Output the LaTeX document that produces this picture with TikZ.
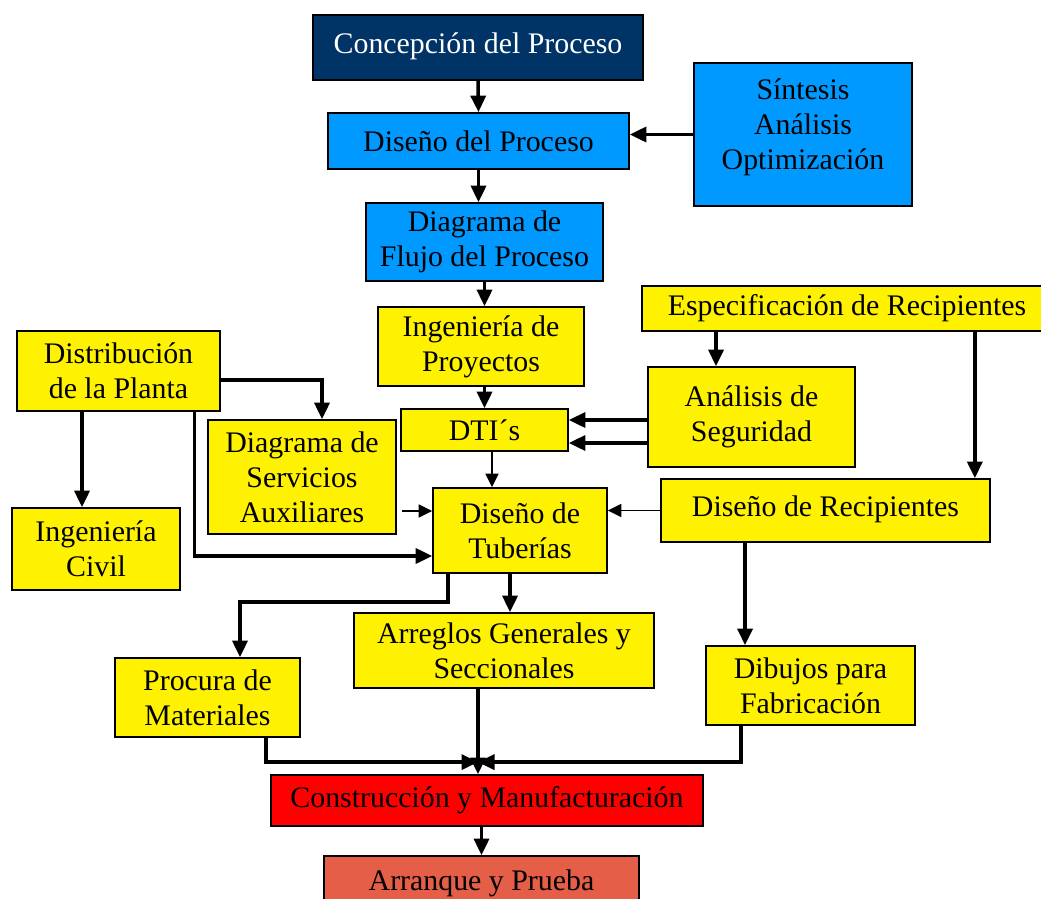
\documentclass[tikz,border=0pt]{standalone}
\usepackage{fontspec}
\setmainfont{Liberation Serif}
\usetikzlibrary{positioning, arrows.meta, calc}
\definecolor{navy}{RGB}{0,51,102}
\definecolor{skyblue}{RGB}{0,153,255}
\definecolor{brick}{RGB}{229,94,72}

\begin{document}
\begin{tikzpicture}[
    x=0.02cm, y=-0.02cm,
    every node/.style={font=\fontsize{17}{20}\selectfont},
    box/.style={draw, line width=1pt, fill=yellow, align=center, inner sep=2pt},
    arrow/.style={-{Triangle[length=0.33cm, width=0.3cm]}, line width=2pt},
    thinarrow/.style={-{Triangle[length=0.27cm, width=0.26cm]}, line width=0.9pt}
  ]
  \clip (0,0) rectangle (1041,899);

  % process design chain
  \node[box, fill=navy, text=white, minimum width=6.6cm, minimum height=1.3cm] (conc) at (478,47.5) {Concepción del Proceso\\[-15pt]\mbox{}};
  \node[box, fill=skyblue, minimum width=6.02cm, minimum height=1.12cm] (dis) at (478.5,141) {Diseño del Proceso};
  \node[box, fill=skyblue, minimum width=4.36cm, minimum height=2.86cm] (sin) at (803,134.5) {Síntesis\\Análisis\\Optimización\\[-8pt]\mbox{}};
  \node[box, fill=skyblue, minimum width=4.74cm, minimum height=1.56cm] (flu) at (484.5,242) {Diagrama de\\Flujo del Proceso};
  \node[box, minimum width=4.12cm, minimum height=1.58cm] (ing) at (481,346.5) {Ingeniería de\\Proyectos};
  \node[box, minimum width=8.2cm, minimum height=0.9cm]   (esp) at (847,308.5) {Especificación de Recipientes};
  \node[box, minimum width=4.06cm, minimum height=1.6cm]  (dpl) at (118.5,371) {Distribución\\de la Planta};
  \node[box, minimum width=4.14cm, minimum height=2.0cm]  (ana) at (751.5,417) {Análisis de\\Seguridad};
  \node[box, minimum width=3.34cm, minimum height=0.84cm] (dti) at (484.5,430) {DTI´s};
  \node[box, minimum width=3.76cm, minimum height=2.28cm] (srv) at (302,477) {Diagrama de\\Servicios\\Auxiliares};
  \node[box, minimum width=3.48cm, minimum height=1.7cm]  (tub) at (520,530.5) {Diseño de\\Tuberías};
  \node[box, minimum width=6.58cm, minimum height=1.26cm] (rec) at (825.5,510.5) {Diseño de Recipientes\\[-15pt]\mbox{}};
  \node[box, minimum width=3.36cm, minimum height=1.64cm] (civ) at (96,549) {Ingeniería\\Civil};

  % drawings and construction
  \node[box, minimum width=6.0cm, minimum height=1.5cm]   (arr) at (504,650.5) {Arreglos Generales y\\Seccionales};
  \node[box, minimum width=3.7cm, minimum height=1.58cm]  (pro) at (207.5,697.5) {Procura de\\Materiales};
  \node[box, minimum width=4.18cm, minimum height=1.58cm] (dib) at (810.5,685.5) {Dibujos para\\Fabricación};
  \node[box, fill=red, minimum width=8.64cm, minimum height=1.02cm] (con) at (487,800.5) {Construcción y Manufacturación};
  \node[box, fill=brick, minimum width=6.3cm, minimum height=1.1cm] (arq) at (481.5,883.5) {Arranque y Prueba};

  \coordinate (jn) at ($(con.north)+(-9,-12)$);

  \draw[arrow] (conc.south) -- (dis.north);
  \draw[arrow] (sin.west) -- (sin.west -| dis.east);
  \draw[arrow] (dis.south) -- (dis.south |- flu.north);
  \draw[arrow] (flu.south) -- (flu.south |- ing.north);
  \draw[arrow] (dti.north |- ing.south) -- (dti.north);
  \draw[arrow] ([xshift=-0.71cm]ana.north |- esp.south) -- ([xshift=-0.71cm]ana.north);
  \draw[arrow] ([xshift=-0.32cm]rec.north east |- esp.south) -- ([xshift=-0.32cm]rec.north east);
  \draw[arrow] ([yshift=0.2cm]dti.east -| ana.west) -- ([yshift=0.2cm]dti.east);
  \draw[arrow] ([yshift=-0.26cm]dti.east -| ana.west) -- ([yshift=-0.26cm]dti.east);
  \draw[thinarrow] ([xshift=0.15cm]dti.south) -- ([xshift=0.15cm]dti.south |- tub.north);
  \draw[arrow] ([yshift=-0.18cm]dpl.east) -| ([xshift=0.4cm]srv.north);
  \draw[arrow] ([xshift=-0.28cm]civ.north |- dpl.south) -- ([xshift=-0.28cm]civ.north);
  \draw[arrow] ([xshift=1.52cm]dpl.south) |- ([yshift=-0.51cm]tub.west);
  \draw[thinarrow] ([xshift=-0.6cm, yshift=0.39cm]tub.west) -- ([yshift=0.39cm]tub.west);
  \draw[thinarrow] (rec.west) -- (rec.west -| tub.east);
  \draw[arrow] ([xshift=-1.31cm]dib.north |- rec.south) -- ([xshift=-1.31cm]dib.north);
  \draw[arrow] ([xshift=-1.44cm]tub.south) -- ++(0,-0.56cm) -| ([xshift=0.65cm]pro.north);
  \draw[arrow] ([xshift=0.12cm]arr.north |- tub.south) -- ([xshift=0.12cm]arr.north);
  \draw[arrow] ([xshift=1.17cm]pro.south) |- (jn);
  \draw[arrow] ([xshift=-1.39cm]dib.south) |- (jn);
  \draw[arrow] (jn |- arr.south) -- (jn |- con.north);
  \draw[arrow] (arq.north |- con.south) -- (arq.north);
\end{tikzpicture}
\end{document}
